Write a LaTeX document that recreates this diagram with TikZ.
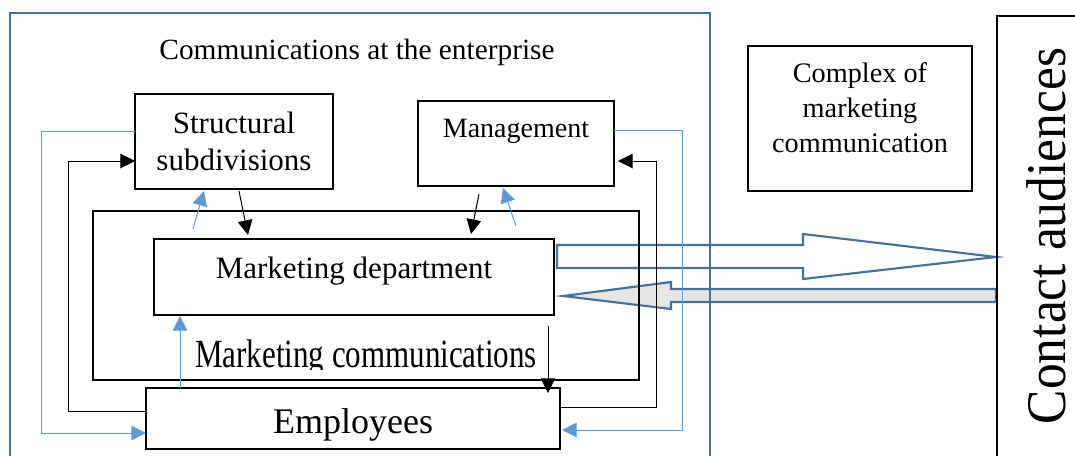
\documentclass[tikz,border=0pt]{standalone}
\usepackage{fontspec}
\setmainfont{Liberation Serif}
\usetikzlibrary{arrows.meta,calc}
\definecolor{frameblue}{HTML}{41719C}
\definecolor{lineblue}{HTML}{5B9BD5}
\definecolor{arrowgray}{HTML}{E7E6E6}
\begin{document}
\begin{tikzpicture}[x=0.75pt,y=-0.75pt,
  box/.style={draw=black,line width=0.9pt,inner sep=0pt,outer sep=0pt},
  bigframe/.style={draw=frameblue,line width=1.6pt,inner sep=0pt,outer sep=0pt},
  blk/.style={draw=black,line width=0.75pt,-{Triangle[length=11pt,width=11pt]}},
  blu/.style={draw=lineblue,line width=0.75pt,-{Triangle[length=11pt,width=11pt]}},
  barrow/.style={draw=frameblue,line width=1.6pt,line join=miter}]
\useasboundingbox (0,0) rectangle (1075,455);

% block arrows (drawn first so that lines show through)
\draw[barrow,fill=white] (557,245) -- (803,245) -- (803,234) -- (996,257) -- (803,279) -- (803,268) -- (557,268) -- cycle;
\draw[barrow,fill=arrowgray] (996,289) -- (671,289) -- (671,282) -- (563,296) -- (671,309) -- (671,302) -- (996,302) -- cycle;

% frames
\node[bigframe,minimum width=525pt,minimum height=350.25pt] (enterprise) at (360,246.5) {};
\node[box,minimum width=409.5pt,minimum height=126.75pt] (mcframe) at (366,295.5) {};
\node[box,minimum width=77.25pt,minimum height=348pt] (contact) at (1048.5,248) {};

% boxes
\node[box,minimum width=148.5pt,minimum height=71.25pt,align=center,
      font=\fontsize{23.25}{27.75}\selectfont] (struct) at (234,141.5) {Structural\\subdivisions};
\node[box,minimum width=147pt,minimum height=63.75pt] (mgmt) at (516,143.5) {};
\node[box,minimum width=300pt,minimum height=57pt] (mkt) at (354,277) {};
\node[box,minimum width=310.5pt,minimum height=45.75pt] (emp) at (353,418.5) {};
\node[box,minimum width=168pt,minimum height=108.75pt] (complex) at (860,118.5) {};

% texts
\node[anchor=base,font=\fontsize{22}{27}\selectfont] (title) at (357,59) {Communications at the enterprise};
\node[anchor=base,font=\fontsize{21}{25}\selectfont] (mgmttext) at (516,137) {Management};
\node[anchor=base,font=\fontsize{23.25}{28}\selectfont] (mkttext) at (354,278) {Marketing department};
\node[anchor=base,font=\fontsize{27}{32}\selectfont] (emptext) at (353,433) {Employees};
\node[align=center,font=\fontsize{21.2}{26.25}\selectfont,inner sep=0pt] (complextext) at (860,107.4) {Complex of\\marketing\\communication};
\node[rotate=90,anchor=base,font=\fontsize{42}{50}\selectfont,inner sep=0pt] (contacttext) at (1065,236) {\scalebox{0.92}[1]{Contact audiences}};
\begin{scope}
  \clip (93,211) rectangle (639,369);
  \node[anchor=base,font=\fontsize{30}{36}\selectfont,inner sep=0pt] (mctext) at (366,367) {\scalebox{0.775}[1]{Marketing communications}};
\end{scope}

% short arrows
\draw[blk] ($(struct.south)+(5,2)$) -- ($(mkt.north)+(-106,-4)$);
\draw[blu] ($(mkt.north)+(-161,-10)$) -- ($(struct.south)+(-30,2)$);
\draw[blk] ($(mgmt.south)+(-37,8)$) -- ($(mkt.north)+(117,-5)$);
\draw[blu] ($(mkt.north)+(162,-13)$) -- ($(mgmt.south)+(-13,2)$);
\draw[blk] ($(mkt.south)+(194,11)$) -- ($(emp.north)+(195,5)$);
\draw[blu] ($(emp.north)+(-173,0)$) -- ($(mkt.south)+(-174,1)$);

% loops
\draw[blk] ($(emp.west)+(0,-7.5)$) -- ++(-78,0) |- ($(struct.west)+(0,19.5)$);
\draw[blu] ($(struct.west)+(0,-10)$) -- ++(-94,0) |- ($(emp.west)+(0,14.5)$);
\draw[blk] ($(emp.east)+(0,-11.5)$) -- ++(96,0) |- ($(mgmt.east)+(4,17.5)$);
\draw[blu] ($(mgmt.east)+(0,-13.5)$) -- ++(68,0) |- ($(emp.east)+(2,11.5)$);
\end{tikzpicture}
\end{document}
